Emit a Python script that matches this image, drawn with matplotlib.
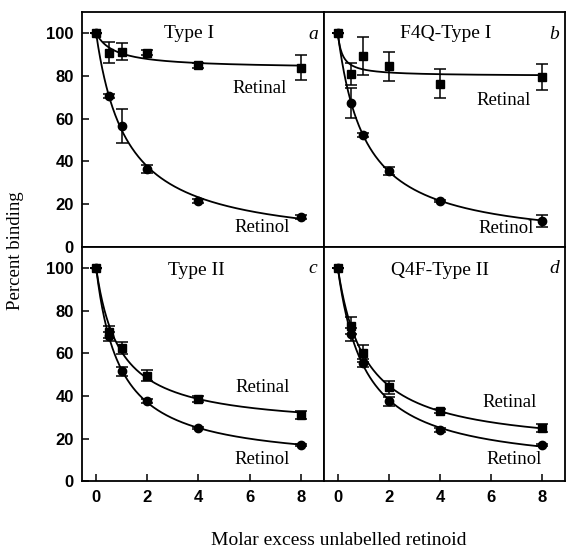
import matplotlib
matplotlib.use("Agg")
import matplotlib.pyplot as plt
import numpy as np

# ── Data ──────────────────────────────────────────────────────────────────────
excess = [0, 0.5, 1, 2, 4, 8]

# panel a: Type I
a_retinal = [100, 91, 91.5, 91, 85, 84]
a_retinal_err = [0, 5, 4, 1, 1, 6]
a_retinol = [100, 70.5, 56.5, 36.5, 21.5, 14]
a_retinol_err = [0, 1, 8, 2, 1, 1]

# panel b: F4Q-Type I
b_retinal = [100, 81, 89.5, 84.5, 76.5, 79.5]
b_retinal_err = [0, 5, 9, 7, 7, 6]
b_retinol = [100, 67.5, 52.5, 35.5, 21.5, 12]
b_retinol_err = [0, 7, 1, 2, 0.5, 3]

# panel c: Type II
c_retinal = [100, 70, 62.5, 49.5, 38.5, 31]
c_retinal_err = [0, 3, 3, 2.5, 1.5, 2]
c_retinol = [100, 68, 51.5, 37.5, 25, 17]
c_retinol_err = [0, 2, 2, 1, 0.5, 0.5]

# panel d: Q4F-Type II
d_retinal = [100, 73, 60, 44, 33, 25]
d_retinal_err = [0, 4, 4, 3, 1, 2]
d_retinol = [100, 69, 55.5, 37.5, 24, 17]
d_retinol_err = [0, 3, 2, 2, 1, 0.5]

titles = ["Type I", "F4Q-Type I", "Type II", "Q4F-Type II"]
letters = ["a", "b", "c", "d"]

SERIF = "Liberation Serif"
SANS = "Liberation Sans"


def fit_curve(x, y):
    """Least-squares fit of y = b + (100 - b) / (1 + x/K), returns smooth line."""
    x = np.asarray(x, float)
    y = np.asarray(y, float)
    bs = np.linspace(0, 99, 199)[:, None, None]
    ks = np.geomspace(0.02, 50, 400)[None, :, None]
    pred = bs + (100 - bs) / (1 + x[None, None, :] / ks)
    sse = ((pred - y[None, None, :]) ** 2).sum(axis=2)
    i, j = np.unravel_index(np.argmin(sse), sse.shape)
    b, k = bs[i, 0, 0], ks[0, j, 0]
    xx = np.linspace(0, 8, 300)
    return xx, b + (100 - b) / (1 + xx / k)


def draw_series(ax, y, err, marker):
    xx, yy = fit_curve(excess, y)
    ax.plot(xx, yy, color="black", lw=1.3, zorder=2)
    ax.errorbar(excess, y, yerr=err, fmt=marker, color="black", ms=6,
                capsize=4, elinewidth=1.1, capthick=1.1, zorder=3)


fig = plt.figure(figsize=(5.7, 5.5), dpi=100)
left, right_w = 0.144, 0.424
bottom, h = 0.125, 0.4265
boxes = [
    [left, bottom + h, right_w, h],
    [left + right_w, bottom + h, right_w, h],
    [left, bottom, right_w, h],
    [left + right_w, bottom, right_w, h],
]

panels = [
    (a_retinal, a_retinal_err, a_retinol, a_retinol_err),
    (b_retinal, b_retinal_err, b_retinol, b_retinol_err),
    (c_retinal, c_retinal_err, c_retinol, c_retinol_err),
    (d_retinal, d_retinal_err, d_retinol, d_retinol_err),
]

# label positions (data coords) for "Retinal" / "Retinol"
retinal_pos = [(6.4, 74), (6.5, 68.5), (6.5, 44), (6.7, 37)]
retinol_pos = [(6.5, 9), (6.6, 8.5), (6.5, 10), (6.9, 10)]
title_pos = [(3.65, 100), (4.2, 100), (3.9, 98.6), (4.0, 98.6)]

for idx, (box, (rl, rle, ro, roe)) in enumerate(zip(boxes, panels)):
    ax = fig.add_axes(box)
    draw_series(ax, rl, rle, "s")
    draw_series(ax, ro, roe, "o")
    ax.set_xlim(-0.55, 8.9)
    ax.set_ylim(0, 110)
    ax.set_xticks([0, 2, 4, 6, 8])
    ax.set_yticks([0, 20, 40, 60, 80, 100])
    for sp in ax.spines.values():
        sp.set_linewidth(1.3)
    ax.tick_params(direction="in", length=5, width=1.1, labelsize=12, pad=6)
    is_left = idx % 2 == 0
    is_bottom = idx >= 2
    ax.tick_params(axis="y", left=is_left, labelleft=is_left)
    ax.tick_params(axis="x", bottom=is_bottom, labelbottom=is_bottom)
    for lab in ax.get_xticklabels() + ax.get_yticklabels():
        lab.set_fontfamily(SANS)
        lab.set_fontweight("bold")

    ax.text(*title_pos[idx], titles[idx], ha="center", va="center",
            fontsize=14, family=SERIF)
    ax.text(*retinal_pos[idx], "Retinal", ha="center", va="center",
            fontsize=13.5, family=SERIF)
    ax.text(*retinol_pos[idx], "Retinol", ha="center", va="center",
            fontsize=13.5, family=SERIF)
    ax.text(0.955, 0.905, letters[idx], transform=ax.transAxes, ha="center",
            va="center", fontsize=14, family=SERIF, style="italic")

fig.text(0.028, 0.545, "Percent binding", rotation=90, ha="center",
         va="center", fontsize=13.5, family=SERIF)
fig.text(0.594, 0.017, "Molar excess unlabelled retinoid", ha="center",
         va="center", fontsize=14, family=SERIF)

fig.savefig("out.png", dpi=100)
